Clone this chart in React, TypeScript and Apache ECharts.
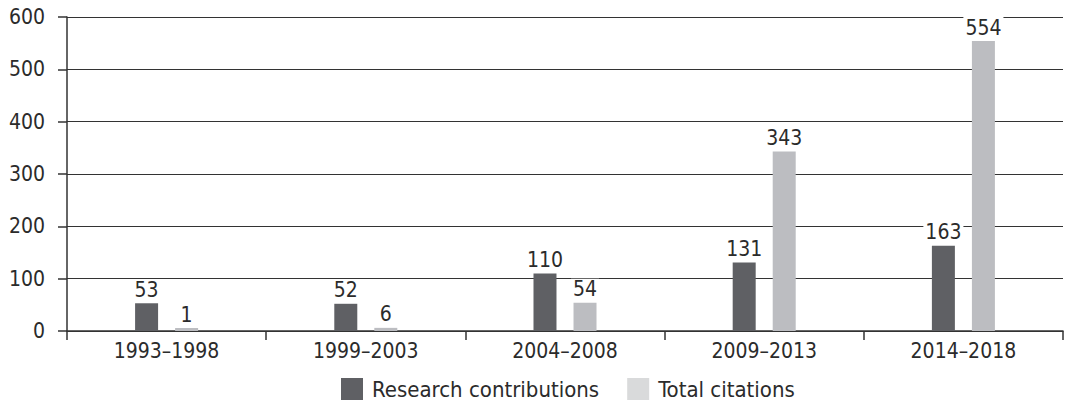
import React, { useEffect, useRef } from "react";
import * as echarts from "echarts";

const categories = ["1993–1998", "1999–2003", "2004–2008", "2009–2013", "2014–2018"];
const researchContributions = [53, 52, 110, 131, 163];
const totalCitations = [1, 6, 54, 343, 554];
const yTicks = [0, 100, 200, 300, 400, 500, 600];

const FONT = "'Liberation Sans Narrow', 'DejaVu Sans Condensed', 'Roboto', sans-serif";
const TEXT = "#2b2b2b";

export default function App() {
  const ref = useRef<HTMLDivElement>(null);
  useEffect(() => {
    const chart = echarts.init(ref.current!, null, { renderer: "svg" });
    const label = {
      show: true,
      position: "top" as const,
      distance: 3,
      color: TEXT,
      fontSize: 21,
      fontFamily: FONT,
      backgroundColor: "#ffffff",
      padding: [0, 2, 0, 2],
    };
    chart.setOption({
      animation: false,
      textStyle: { fontFamily: FONT },
      grid: { left: 67, right: 4, top: 17, bottom: 74, containLabel: false },
      legend: {
        bottom: 0,
        left: 336,
        itemWidth: 22,
        itemHeight: 22,
        itemGap: 28,
        icon: "rect",
        textStyle: { fontSize: 22, color: TEXT, fontFamily: FONT, padding: [0, 0, 0, 4] },
        data: [
          { name: "Research contributions", itemStyle: { color: "#5f6064" } },
          { name: "Total citations", itemStyle: { color: "#d9dadb" } },
        ],
      },
      xAxis: {
        type: "category",
        data: categories,
        axisLine: { show: true, lineStyle: { color: "#333", width: 1.5 } },
        axisTick: { show: true, length: 9, inside: false, alignWithLabel: false, lineStyle: { color: "#333", width: 1.5 } },
        axisLabel: { fontSize: 21, color: TEXT, fontFamily: FONT, margin: 9 },
      },
      yAxis: {
        type: "value",
        min: yTicks[0],
        max: yTicks[yTicks.length - 1],
        interval: 100,
        axisLine: { show: true, lineStyle: { color: "#333", width: 1.5 } },
        axisTick: { show: true, length: 9, lineStyle: { color: "#333", width: 1.5 } },
        splitLine: { show: true, lineStyle: { color: "#333", width: 1.2 } },
        axisLabel: { fontSize: 21, color: TEXT, fontFamily: FONT, margin: 22 },
      },
      series: [
        {
          name: "Research contributions",
          type: "bar",
          data: researchContributions,
          barWidth: 23,
          barGap: "74%",
          barMinHeight: 3,
          itemStyle: { color: "#5f6064" },
          label,
        },
        {
          name: "Total citations",
          type: "bar",
          data: totalCitations,
          barWidth: 23,
          barGap: "74%",
          barMinHeight: 3,
          itemStyle: { color: "#bcbdc1" },
          label,
        },
      ],
    });
    return () => chart.dispose();
  }, []);
  return <div ref={ref} style={{ width: 1067, height: 405, position: "absolute", left: 0, top: 0 }} />;
}
